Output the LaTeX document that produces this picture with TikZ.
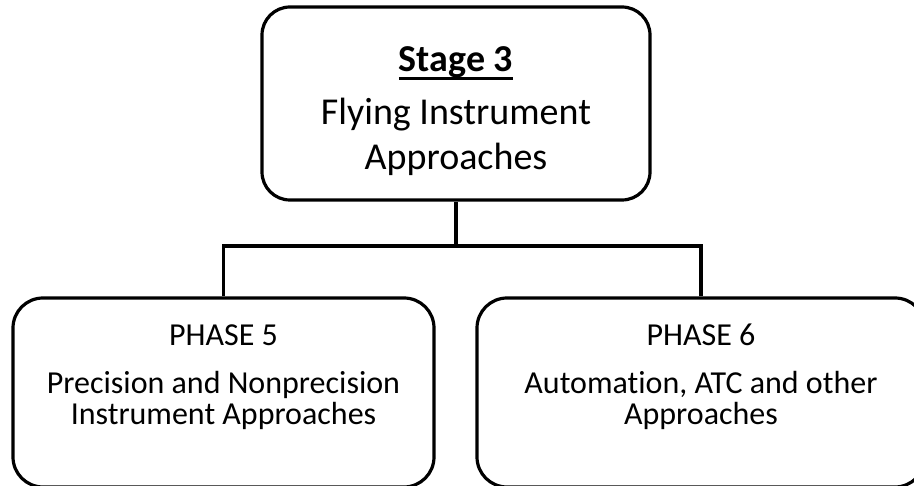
\documentclass[tikz,border=0pt]{standalone}
\usepackage{fontspec}
\setmainfont{Carlito}[Ligatures=NoCommon]
\usepackage{tikz}
\usetikzlibrary{positioning}
\newcommand{\stageul}[1]{\leavevmode\setbox0\hbox{#1}\rlap{\raisebox{-8pt}{\rule{\wd0}{2.5pt}}}\box0}

\begin{document}
\begin{tikzpicture}[
    x=1pt, y=-1pt,
    stagebox/.style={rectangle, draw=black, line width=3.2pt, rounded corners=28pt, minimum width=388pt, minimum height=193pt, inner sep=0pt},
    phasebox/.style={rectangle, draw=black, line width=3.2pt, rounded corners=30pt, minimum height=189pt, inner sep=0pt},
    stagetext/.style={align=center, anchor=base, inner sep=0pt, font=\fontsize{38}{45}\selectfont},
    phasetext/.style={align=center, anchor=base, inner sep=0pt, font=\fontsize{32}{32}\selectfont},
    link/.style={draw=black, line width=3.2pt}
]

\useasboundingbox (0,0) rectangle (914,486);

\node[stagebox] (stage) at (456,103.5) {};
\node[stagetext] (stagelabel) at (456,170) {\stageul{\textbf{Stage 3}}\\[8pt]Flying Instrument\\Approaches};

\node[phasebox, minimum width=421pt] (phase5) at (223.5,392.5) {};
\node[phasebox, minimum width=448pt] (phase6) at (701,392.5) {};
\node[phasetext] (phase5label) at (223.5,425) {PHASE 5\\[16pt]Precision and Nonprecision\\Instrument Approaches};
\node[phasetext] (phase6label) at (701,425) {PHASE 6\\[16pt]Automation, ATC and other\\Approaches};

\coordinate (split) at (456,246);
\draw[link] (stage.south) -- (split);
\draw[link] (phase5.north) |- (split) -| (phase6.north);

\end{tikzpicture}
\end{document}
